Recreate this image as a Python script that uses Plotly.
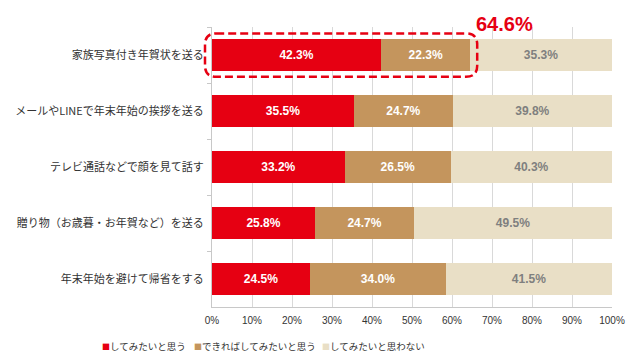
import plotly.graph_objects as go

categories = ["家族写真付き年賀状を送る", "メールやLINEで年末年始の挨拶を送る", "テレビ通話などで顔を見て話す",
              "贈り物（お歳暮・お年賀など）を送る", "年末年始を避けて帰省をする"]
series_names = ["してみたいと思う", "できればしてみたいと思う", "してみたいと思わない"]
want = [42.3, 35.5, 33.2, 25.8, 24.5]
maybe = [22.3, 24.7, 26.5, 24.7, 34.0]
not_want = [35.3, 39.8, 40.3, 49.5, 41.5]
x_ticks = [0, 10, 20, 30, 40, 50, 60, 70, 80, 90, 100]

colors = ["#E60012", "#C4955D", "#E9DFC6"]
text_colors = ["white", "white", "#7f7f7f"]
num_font = "Liberation Sans Narrow, Arial Narrow, Liberation Sans, Arial"
jp_font = "Noto Sans CJK JP, Noto Sans"

fig = go.Figure()
for name, vals, c, tc in zip(series_names, [want, maybe, not_want], colors, text_colors):
    fig.add_trace(go.Bar(
        y=categories, x=vals, name=name, orientation="h",
        marker=dict(color=c, line=dict(width=0)),
        text=[f"{v:.1f}%" for v in vals], textposition="inside",
        insidetextanchor="middle",
        textfont=dict(color=tc, size=12, family=num_font, weight="bold"),
        hoverinfo="skip",
    ))

# page body has an 8px margin, so the figure is sized/offset to compensate
fig.update_layout(
    barmode="stack",
    bargap=0.42,
    width=624, height=344,
    margin=dict(l=204, r=20, t=19, b=45),
    plot_bgcolor="white", paper_bgcolor="white",
    showlegend=False,
    font=dict(family=jp_font),
)
fig.update_xaxes(range=[0, 100], tickvals=x_ticks, ticktext=[f"{t}%" for t in x_ticks],
                 showgrid=True, gridcolor="#d9d9d9", gridwidth=1,
                 showline=True, linecolor="#c8c8c8", linewidth=1, zeroline=False,
                 ticks="", tickfont=dict(size=10, family=num_font, color="#333333"),
                 ticklabelstandoff=4, automargin=False, fixedrange=True)
fig.update_yaxes(autorange="reversed", showline=True, linecolor="#c8c8c8", linewidth=1,
                 ticks="outside", tickson="boundaries", ticklen=4, tickcolor="#c8c8c8",
                 tickfont=dict(size=11, family=jp_font, color="#333333"),
                 ticklabelstandoff=5, automargin=False,
                 showgrid=False, fixedrange=True)

# legend drawn as text with coloured squares
legend_x = [-0.28, -0.05, 0.27]
for name, c, lx in zip(series_names, colors, legend_x):
    fig.add_annotation(x=lx, y=-0.14, xref="paper", yref="paper", showarrow=False,
                       xanchor="left", yanchor="middle",
                       text=f"<span style='color:{c};font-size:8px'>■</span>{name}",
                       font=dict(size=9.5, family=jp_font, color="#333333"))

# dashed rounded rectangle around the top row's first two segments
total_top = want[0] + maybe[0]
x0 = -0.0175
x1 = (total_top + 1.7) / 100
yc = 1 - 0.5 / len(categories)
y0, y1 = yc - 0.078, yc + 0.077
rx, ry = 0.028, 0.04
path = (f"M {x0+rx},{y1} L {x1-rx},{y1} Q {x1},{y1} {x1},{y1-ry} "
        f"L {x1},{y0+ry} Q {x1},{y0} {x1-rx},{y0} L {x0+rx},{y0} "
        f"Q {x0},{y0} {x0},{y0+ry} L {x0},{y1-ry} Q {x0},{y1} {x0+rx},{y1} Z")
fig.add_shape(type="path", path=path, xref="paper", yref="paper",
              line=dict(color="#E60012", width=2.5, dash="8px,4px"), layer="above")
fig.add_annotation(x=(total_top + 8.6) / 100, y=1.01, xref="paper", yref="paper",
                   text=f"<b>{total_top:.1f}%</b>", showarrow=False,
                   font=dict(size=20, color="#E60012", family=num_font),
                   xanchor="center", yanchor="middle")

fig.write_html("out.html")
